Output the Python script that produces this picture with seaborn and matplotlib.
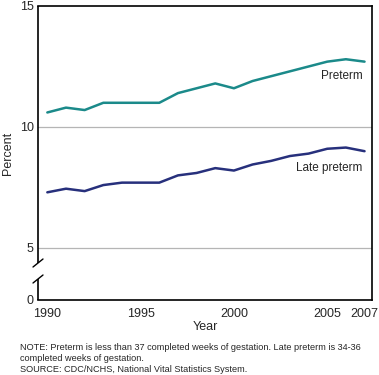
import numpy as np
import pandas as pd
import matplotlib
matplotlib.use("Agg")
import matplotlib.pyplot as plt
import seaborn as sns

years = list(range(1990, 2008))
preterm = [10.6, 10.8, 10.7, 11.0, 11.0, 11.0, 11.0, 11.4, 11.6, 11.8,
           11.6, 11.9, 12.1, 12.3, 12.5, 12.7, 12.8, 12.7]
late_preterm = [7.3, 7.45, 7.35, 7.6, 7.7, 7.7, 7.7, 8.0, 8.1, 8.3,
                8.2, 8.45, 8.6, 8.8, 8.9, 9.1, 9.15, 9.0]
series_names = ["Preterm", "Late preterm"]
xtick_labels = [1990, 1995, 2000, 2005, 2007]
ytick_values = [5, 10, 15]

df = pd.DataFrame({
    "Year": years * 2,
    "Percent": preterm + late_preterm,
    "Series": [series_names[0]] * len(years) + [series_names[1]] * len(years),
})

sns.set_style("white")
plt.rcParams["font.family"] = ["Liberation Sans", "DejaVu Sans"]

fig = plt.figure(figsize=(3.79, 3.75), dpi=100)
ax = fig.add_axes([38 / 379, 1 - 300 / 375, (372 - 38) / 379, 294 / 375])

palette = {"Preterm": "#1b8a8a", "Late preterm": "#27307c"}
sns.lineplot(data=df, x="Year", y="Percent", hue="Series", palette=palette,
             linewidth=1.8, legend=False, ax=ax)

ybottom = 2.85
ax.set_ylim(ybottom, 15)
ax.set_xlim(1989.5, 2007.4)

for v in [5, 10]:
    ax.axhline(v, color="#b5b5b5", linewidth=0.9, zorder=0)

ax.set_yticks([ybottom] + ytick_values)
ax.set_yticklabels(["0"] + [str(v) for v in ytick_values])
ax.set_xticks(xtick_labels)
ax.set_xticklabels([str(v) for v in xtick_labels])
ax.set_xticks(years, minor=True)
ax.tick_params(axis="x", which="both", direction="out", length=3.5, width=0.9,
               color="black", labelsize=9, pad=2)
ax.tick_params(axis="y", which="both", length=0, labelsize=9, pad=3)

for s in ["top", "right", "bottom"]:
    ax.spines[s].set_visible(True)
    ax.spines[s].set_color("black")
    ax.spines[s].set_linewidth(1.2)
ax.spines["left"].set_visible(False)

# broken left axis
lo1, hi1 = 0.0, (300 - 279) / 294
lo2 = (300 - 263) / 294
ax.plot([0, 0], [lo1, hi1], transform=ax.transAxes, color="black",
        linewidth=1.2, clip_on=False, solid_capstyle="butt")
ax.plot([0, 0], [lo2, 1.0], transform=ax.transAxes, color="black",
        linewidth=1.2, clip_on=False, solid_capstyle="butt")
dx = 5 / 334
dy = 4 / 294
for yb in [hi1, lo2]:
    ax.plot([-dx, dx], [yb - dy, yb + dy], transform=ax.transAxes,
            color="black", linewidth=1.0, clip_on=False)

ax.set_xlabel("Year", fontsize=9, labelpad=1)
ax.set_ylabel("Percent", fontsize=9, labelpad=4)

ax.text(2006.9, 12.11, "Preterm", ha="right", va="center", fontsize=8.5)
ax.text(2006.9, 8.31, "Late preterm", ha="right", va="center", fontsize=8.5)

note = ("NOTE: Preterm is less than 37 completed weeks of gestation. Late preterm is 34-36\n"
        "completed weeks of gestation.\n"
        "SOURCE: CDC/NCHS, National Vital Statistics System.")
fig.text(20 / 379, 1 - 343 / 375, note, ha="left", va="top", fontsize=6.6,
         linespacing=1.25)

fig.savefig("out.png", dpi=100)
